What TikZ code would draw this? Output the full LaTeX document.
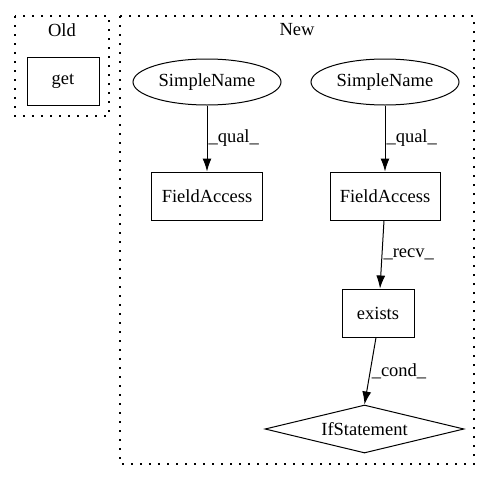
\documentclass[tikz,border=0pt]{standalone}
\usepackage{fontspec}
\setmainfont{Liberation Serif}
\usepackage{tikz}
\tikzset{
    branch/.style={ % requires library shapes.geometric
        draw,
        diamond,
        aspect=#1
    },
}
\usetikzlibrary{arrows,arrows.meta}
\usetikzlibrary{positioning,shapes.geometric}

\begin{document}
\begin{tikzpicture}[x=1pt,y=-1pt,font=\fontsize{18.5}{22}\selectfont]
%% node shapes
\tikzstyle{cvertex}=[rectangle,draw=black,line width=1pt,minimum height=48pt,inner sep=0pt]
\tikzstyle{nvertex}=[ellipse,draw=black,line width=1pt,minimum width=148pt,minimum height=46pt,inner sep=0pt]
\tikzstyle{ivertex}=[branch=4.1,draw=black,line width=1pt,minimum width=199pt,minimum height=48pt,inner sep=0pt]
\tikzstyle{cluster}=[draw=black,line width=1.1pt,dash pattern=on 1.6pt off 7.4pt]
\tikzstyle{elabel}=[midway,anchor=west,inner sep=1pt]
\useasboundingbox (0,0) rectangle (491,480);
%%%%%%%%%%%%%%%%%%%%%%%%%%%%%%%%%%%%%%%%%%%%%%%%%%%%%%%%%%%%%%%%%%%%%%%%
%CLUSTERS
\draw[cluster] (15,16) rectangle (109,116);
\draw[cluster] (120,16) rectangle (474,464);
\node (oldlabel) at (62,30) {Old};
\node (newlabel) at (297,30) {New};
%%%%%%%%%%%%%%%%%%%%%%%%%%%%%%%%%%%%%%%%%%%%%%%%%%%%%%%%%%%%%%%%%%%%%%%%
%old
\node[cvertex,minimum width=72pt] (get) at (63,81) {get};
%new, left
\node[nvertex] (name1) at (207,82) {SimpleName};
\node[cvertex,minimum width=111pt] (field1) at (207,196) {FieldAccess};
%new, right
\node[nvertex] (name2) at (385,82) {SimpleName};
\node[cvertex,minimum width=110pt] (field2) at (385,196) {FieldAccess};
\node[cvertex,minimum width=72pt] (exists) at (378,313) {exists};
\node[ivertex] (ifstmt) at (364.5,429) {IfStatement};

%%%%%%%%%%%%%%%%%%%%%%%%%%%%%%%%%%%%%%%%%%%%%%%%%%%%%%%%%%%%%%
%ARROWS
\draw[->,>={Latex[length=13pt,width=9pt]},line width=1pt] (name1) -- node[elabel] {\_qual\_} (field1);
\draw[->,>={Latex[length=13pt,width=9pt]},line width=1pt] (name2) -- node[elabel] {\_qual\_} (field2);
\draw[->,>={Latex[length=13pt,width=9pt]},line width=1pt] (field2.south -| 384,0) -- node[elabel] {\_recv\_} (exists.north -| 380,0);
\draw[->,>={Latex[length=13pt,width=9pt]},line width=1pt] (exists.south -| 376,0) -- node[elabel] {\_cond\_} (ifstmt.north);
\end{tikzpicture}
\end{document}
